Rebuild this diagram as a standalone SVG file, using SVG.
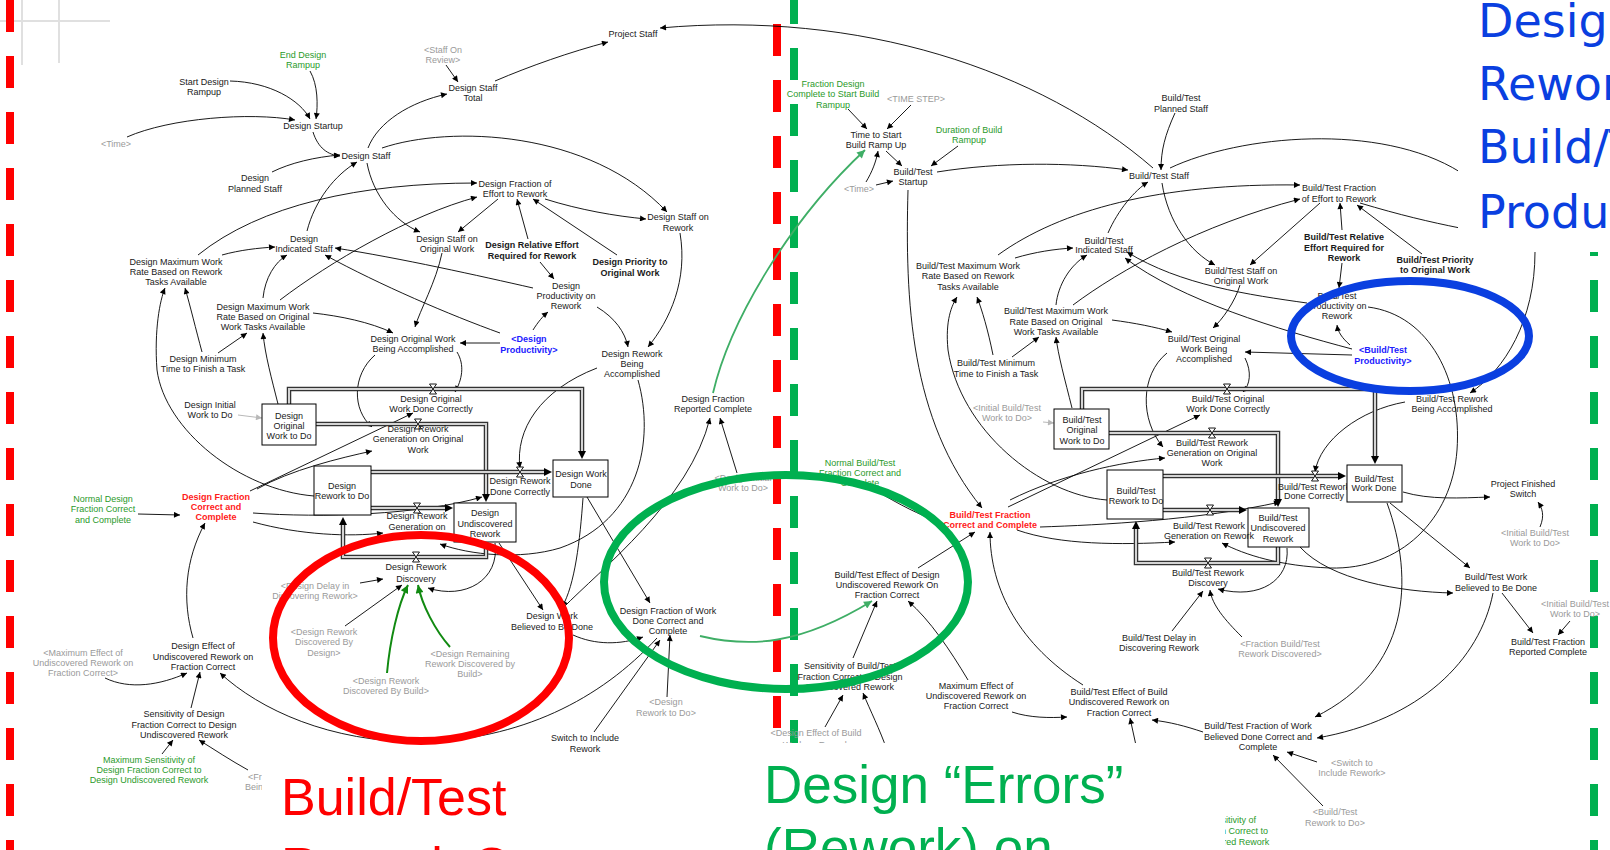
<svg xmlns="http://www.w3.org/2000/svg" width="1610" height="850" viewBox="0 0 1610 850">
<defs>
<style>
text{font-family:"Liberation Sans",Arial,sans-serif;font-size:9px;fill:#1a1a1a;text-anchor:middle}
.g{fill:#9a9a9a}
.gr{fill:#2a9a2a}
.b{font-weight:bold}
.rd{fill:#ff1a1a;font-weight:bold}
.bl{fill:#2020ff;font-weight:bold}
.c{fill:none;stroke:#000;stroke-width:0.9;marker-end:url(#ah)}
.cn{fill:none;stroke:#000;stroke-width:0.9}
.cg{fill:none;stroke:#b8b8b8;stroke-width:1;marker-end:url(#ahg)}
.cG{fill:none;stroke:#118a11;stroke-width:2;marker-end:url(#ahG)}
.cM{fill:none;stroke:#3fae66;stroke-width:1.8;marker-end:url(#ahM)}
.po{fill:none;stroke:#333;stroke-width:4.5;marker-end:url(#pa)}
.pi{fill:none;stroke:#d4d4d4;stroke-width:2}
.stk{fill:#fff;stroke:#000;stroke-width:1}
.dash{fill:none;stroke-width:8;stroke-dasharray:32 24}
.big{font-size:52px;text-anchor:start}
</style>
<marker id="ah" viewBox="0 0 10 10" refX="10" refY="5" markerWidth="8" markerHeight="6" orient="auto" markerUnits="userSpaceOnUse"><path d="M0,0L10,5L0,10z" fill="#000"/></marker>
<marker id="ahg" viewBox="0 0 10 10" refX="10" refY="5" markerWidth="8" markerHeight="6" orient="auto" markerUnits="userSpaceOnUse"><path d="M0,0L10,5L0,10z" fill="#b8b8b8"/></marker>
<marker id="ahG" viewBox="0 0 10 10" refX="10" refY="5" markerWidth="11" markerHeight="8" orient="auto" markerUnits="userSpaceOnUse"><path d="M0,0L10,5L0,10z" fill="#118a11"/></marker>
<marker id="ahM" viewBox="0 0 10 10" refX="10" refY="5" markerWidth="11" markerHeight="8" orient="auto" markerUnits="userSpaceOnUse"><path d="M0,0L10,5L0,10z" fill="#3fae66"/></marker>
<marker id="pa" viewBox="0 0 10 10" refX="0" refY="5" markerWidth="10" markerHeight="8" orient="auto" markerUnits="userSpaceOnUse"><path d="M0,0L10,5L0,10z" fill="#000"/></marker>
<path id="vlv" d="M-3.5,-5H3.5L-3.5,5H3.5Z" fill="#fff" stroke="#000" stroke-width="0.9"/>
</defs>
<rect width="1610" height="850" fill="#fff"/>

<g id="grid" stroke="#e0e0e0" stroke-width="2" fill="none">
<path d="M0,21H110M22,0V65M59,0V63"/>
</g>

<g id="dividers">
<path class="dash" stroke="#ff0000" d="M10,0V850"/>
<path class="dash" stroke="#ff0000" d="M777,24V850"/>
<path class="dash" stroke="#00b050" d="M794,-8V850"/>
<path class="dash" stroke="#00b050" d="M1594,0V850"/>
</g>

<g id="connectors">
<path class="c" d="M127,137C170,118 250,112 295,120"/>
<path class="c" d="M230,81C270,82 300,100 310,119"/>
<path class="c" d="M310,71C318,85 318,105 316,119"/>
<path class="c" d="M313,132C318,148 328,155 340,156"/>
<path class="c" d="M272,172C290,163 315,157 340,155"/>
<path class="c" d="M307,231C315,200 335,175 357,162"/>
<path class="c" d="M222,255C240,250 258,248 275,247"/>
<path class="c" d="M198,255C260,205 360,183 477,183"/>
<path class="c" d="M368,148C378,122 410,102 447,94"/>
<path class="c" d="M446,65L458,82"/>
<path class="c" d="M495,81C530,66 570,52 608,42"/>
<path class="c" d="M1153,168C1040,70 860,10 660,28"/>
<path class="c" d="M382,148C450,125 590,130 667,212"/>
<path class="c" d="M367,163C373,195 395,222 420,232"/>
<path class="c" d="M498,199L458,232"/>
<path class="c" d="M545,199C580,210 615,216 646,219"/>
<path class="c" d="M528,239L517,199"/>
<path class="c" d="M540,262L554,279"/>
<path class="c" d="M617,255L533,199"/>
<path class="c" d="M680,233C688,280 670,320 648,347"/>
<path class="c" d="M442,253C436,282 420,310 415,327"/>
<path class="c" d="M280,300C330,262 410,215 477,197"/>
<path class="c" d="M263,298C265,278 275,262 287,255"/>
<path class="c" d="M533,288C480,276 400,258 335,248"/>
<path class="c" d="M500,333C450,315 380,285 325,255"/>
<path class="c" d="M533,330C538,322 543,316 548,312"/>
<path class="c" d="M500,343L460,343"/>
<path class="c" d="M597,307C615,318 625,332 628,347"/>
<path class="c" d="M314,496C240,490 165,430 157,370C154,330 160,300 165,288"/>
<path class="c" d="M202,352C196,330 190,305 185,288"/>
<path class="c" d="M218,353L247,333"/>
<path class="c" d="M278,404C272,380 265,355 263,333"/>
<path class="c" d="M313,313C340,316 370,322 393,333"/>
<path class="c" d="M375,355C352,375 352,410 372,427"/>
<path class="c" d="M457,352C465,365 462,380 455,392"/>
<path class="cg" d="M238,415L262,418"/>
<path class="c" d="M250,491L413,413"/>
<path class="c" d="M257,489C290,470 340,458 372,451"/>
<path class="c" d="M253,513C320,518 420,515 482,497"/>
<path class="c" d="M253,522C300,535 350,537 383,533"/>
<path class="c" d="M138,514L180,515"/>
<path class="c" d="M193,638C182,600 185,560 205,523"/>
<path class="c" d="M597,368C540,390 515,430 520,468"/>
<path class="c" d="M638,380C655,440 640,520 560,548C520,560 470,555 440,544"/>
<path class="c" d="M495,543C500,580 465,600 428,588"/>
<path class="c" d="M499,543L543,610"/>
<path class="c" d="M583,498C580,540 575,585 562,607"/>
<path class="c" d="M587,497L650,603"/>
<path class="c" d="M573,635C595,645 620,645 643,637"/>
<path class="c" d="M563,608C600,570 690,500 710,418"/>
<path class="c" d="M737,473L720,418"/>
<path class="c" d="M594,732L660,640"/>
<path class="c" d="M667,697L670,635"/>
<path class="c" d="M657,638C600,700 520,740 420,742C330,742 260,710 220,673"/>
<path class="c" d="M105,678C130,690 160,685 187,673"/>
<path class="c" d="M191,708L200,672"/>
<path class="c" d="M162,754L173,740"/>
<path class="c" d="M248,770C230,760 215,750 199,740"/>
<path class="c" d="M360,583L383,579"/>
<path class="c" d="M345,626L402,585"/>
<path class="cG" d="M387,673C390,640 398,605 408,585"/>
<path class="cG" d="M450,647C435,630 422,605 418,585"/>
<path class="cM" d="M713,393C730,320 790,220 865,150"/>
<path class="cM" d="M700,636C750,648 800,645 872,601"/>
<path class="c" d="M848,109L867,129"/>
<path class="c" d="M911,105L887,129"/>
<path class="c" d="M886,151L902,166"/>
<path class="c" d="M866,182C872,172 876,162 878,151"/>
<path class="c" d="M876,185L893,181"/>
<path class="c" d="M958,146L931,166"/>
<path class="c" d="M937,172C1000,162 1070,162 1128,170"/>
<path class="c" d="M1175,113C1165,135 1161,150 1161,170"/>
<path class="c" d="M1108,233C1118,210 1135,190 1148,182"/>
<path class="c" d="M908,190C905,300 910,420 982,508"/>
<path class="c" d="M1015,258C1035,252 1055,249 1073,248"/>
<path class="c" d="M998,255C1060,210 1160,183 1300,185"/>
<path class="cn" d="M1170,168C1240,135 1380,122 1460,172"/>
<path class="c" d="M1162,183C1168,222 1190,252 1215,265"/>
<path class="c" d="M1320,203L1250,265"/>
<path class="cn" d="M1360,203C1400,215 1430,222 1460,228"/>
<path class="c" d="M1342,230L1340,203"/>
<path class="c" d="M1342,263L1339,288"/>
<path class="c" d="M1422,254L1357,205"/>
<path class="c" d="M1535,252C1535,320 1505,370 1470,393"/>
<path class="c" d="M1073,305C1120,270 1200,225 1300,199"/>
<path class="c" d="M1056,305C1058,285 1070,265 1087,255"/>
<path class="c" d="M1307,303C1250,295 1180,285 1127,252"/>
<path class="c" d="M1352,349C1280,330 1180,300 1125,258"/>
<path class="c" d="M1350,345C1342,338 1338,332 1337,325"/>
<path class="c" d="M1352,355L1245,352"/>
<path class="c" d="M1368,307C1430,315 1462,380 1457,450C1452,520 1400,570 1330,568C1280,566 1245,555 1222,543"/>
<path class="c" d="M1240,285C1235,302 1222,320 1213,328"/>
<path class="c" d="M1107,500C1040,495 960,430 948,350C945,320 952,305 957,297"/>
<path class="c" d="M993,355C988,330 982,310 977,297"/>
<path class="c" d="M1012,357L1039,337"/>
<path class="c" d="M1072,408C1065,380 1058,355 1056,337"/>
<path class="c" d="M1112,320C1135,323 1155,327 1172,332"/>
<path class="c" d="M1167,353C1140,375 1140,420 1163,447"/>
<path class="c" d="M1245,358C1252,372 1250,385 1243,392"/>
<path class="cg" d="M1043,422L1054,423"/>
<path class="c" d="M1008,507L1200,415"/>
<path class="c" d="M1010,500C1060,475 1120,462 1165,458"/>
<path class="c" d="M1040,527C1100,525 1200,520 1280,502"/>
<path class="c" d="M1017,530C1060,545 1120,545 1175,542"/>
<path class="c" d="M875,490C900,505 920,515 937,521"/>
<path class="c" d="M918,568L975,532"/>
<path class="c" d="M1083,685C1020,645 990,590 990,532"/>
<path class="c" d="M1405,402C1360,410 1320,440 1315,472"/>
<path class="c" d="M1287,548C1290,580 1260,600 1218,589"/>
<path class="c" d="M1242,637C1225,620 1212,605 1210,590"/>
<path class="c" d="M1172,631L1203,591"/>
<path class="c" d="M1300,547C1330,580 1400,592 1453,593"/>
<path class="c" d="M1390,503L1470,568"/>
<path class="c" d="M1387,503C1415,580 1410,670 1315,717"/>
<path class="c" d="M1493,593C1480,660 1420,720 1317,738"/>
<path class="c" d="M1502,593L1533,633"/>
<path class="c" d="M1570,621L1558,635"/>
<path class="c" d="M1403,492C1430,500 1460,498 1490,497"/>
<path class="c" d="M1540,527C1545,515 1542,508 1538,502"/>
<path class="c" d="M1317,762L1287,752"/>
<path class="c" d="M1323,806L1273,755"/>
<path class="c" d="M1203,732C1185,726 1170,722 1152,720"/>
<path class="c" d="M1137,750L1130,718"/>
<path class="c" d="M1012,712C1030,718 1050,718 1067,717"/>
<path class="c" d="M968,680C950,650 930,620 908,601"/>
<path class="c" d="M853,658L877,601"/>
<path class="c" d="M825,727L843,695"/>
<path class="c" d="M887,750C880,730 870,710 863,693"/>
</g>

<g id="flows">
<path class="po" d="M289,404V389H582V451"/><path class="pi" d="M289,404V389H582V451"/>
<path class="po" d="M316,424H486V494"/><path class="pi" d="M316,424H486V494"/>
<path class="po" d="M371,472H544"/><path class="pi" d="M371,472H544"/>
<path class="po" d="M371,508H445"/><path class="pi" d="M371,508H445"/>
<path class="po" d="M486,542V557H343V525"/><path class="pi" d="M486,542V557H343V525"/>
<path class="po" d="M1082,409V389H1375V456"/><path class="pi" d="M1082,409V389H1375V456"/>
<path class="po" d="M1109,433H1278V499"/><path class="pi" d="M1109,433H1278V499"/>
<path class="po" d="M1163,476H1338"/><path class="pi" d="M1163,476H1338"/>
<path class="po" d="M1163,510H1239"/><path class="pi" d="M1163,510H1239"/>
<path class="po" d="M1278,547V563H1136V529"/><path class="pi" d="M1278,547V563H1136V529"/>
<use href="#vlv" x="433" y="389"/>
<use href="#vlv" x="418" y="424"/>
<use href="#vlv" x="520" y="472"/>
<use href="#vlv" x="417" y="508"/>
<use href="#vlv" x="416" y="557"/>
<use href="#vlv" x="1227" y="389"/>
<use href="#vlv" x="1212" y="433"/>
<use href="#vlv" x="1315" y="476"/>
<use href="#vlv" x="1210" y="510"/>
<use href="#vlv" x="1208" y="563"/>
</g>

<g id="n_end_design_rampup"><text class="gr"><tspan x="303" y="58">End Design</tspan><tspan x="303" y="68">Rampup</tspan></text></g>
<g id="n_start_design_rampup"><text><tspan x="204" y="85">Start Design</tspan><tspan x="204" y="95">Rampup</tspan></text></g>
<g id="n_design_startup"><text x="313" y="129">Design Startup</text></g>
<g id="n_time1"><text class="g" x="116" y="147">&lt;Time&gt;</text></g>
<g id="n_design_staff"><text x="366" y="159">Design Staff</text></g>
<g id="n_design_planned"><text><tspan x="255" y="181">Design</tspan><tspan x="255" y="192">Planned Staff</tspan></text></g>
<g id="n_design_indicated"><text><tspan x="304" y="242">Design</tspan><tspan x="304" y="252">Indicated Staff</tspan></text></g>
<g id="n_dmax_rework"><text><tspan x="176" y="265">Design Maximum Work</tspan><tspan x="176" y="275">Rate Based on Rework</tspan><tspan x="176" y="285">Tasks Available</tspan></text></g>
<g id="n_project_staff"><text x="633" y="37">Project Staff</text></g>
<g id="n_staff_on_review"><text class="g"><tspan x="443" y="53">&lt;Staff On</tspan><tspan x="443" y="63">Review&gt;</tspan></text></g>
<g id="n_staff_total"><text><tspan x="473" y="91">Design Staff</tspan><tspan x="473" y="101">Total</tspan></text></g>
<g id="n_dfrac_effort"><text><tspan x="515" y="187">Design Fraction of</tspan><tspan x="515" y="197">Effort to Rework</tspan></text></g>
<g id="n_dstaff_rework"><text><tspan x="678" y="220">Design Staff on</tspan><tspan x="678" y="231">Rework</tspan></text></g>
<g id="n_dstaff_orig"><text><tspan x="447" y="242">Design Staff on</tspan><tspan x="447" y="252">Original Work</tspan></text></g>
<g id="n_drel_effort"><text class="b"><tspan x="532" y="248">Design Relative Effort</tspan><tspan x="532" y="259">Required for Rework</tspan></text></g>
<g id="n_dpriority"><text class="b"><tspan x="630" y="265">Design Priority to</tspan><tspan x="630" y="276">Original Work</tspan></text></g>
<g id="n_dprod_rework"><text><tspan x="566" y="289">Design</tspan><tspan x="566" y="299">Productivity on</tspan><tspan x="566" y="309">Rework</tspan></text></g>
<g id="n_dmax_orig"><text><tspan x="263" y="310">Design Maximum Work</tspan><tspan x="263" y="320">Rate Based on Original</tspan><tspan x="263" y="330">Work Tasks Available</tspan></text></g>
<g id="n_dmin"><text><tspan x="203" y="362">Design Minimum</tspan><tspan x="203" y="372">Time to Finish a Task</tspan></text></g>
<g id="n_dorig_being"><text><tspan x="413" y="342">Design Original Work</tspan><tspan x="413" y="352">Being Accomplished</tspan></text></g>
<g id="n_dprod"><text class="bl"><tspan x="529" y="342">&lt;Design</tspan><tspan x="529" y="353">Productivity&gt;</tspan></text></g>
<g id="n_drework_being"><text><tspan x="632" y="357">Design Rework</tspan><tspan x="632" y="367">Being</tspan><tspan x="632" y="377">Accomplished</tspan></text></g>
<g id="n_dinitial"><text><tspan x="210" y="408">Design Initial</tspan><tspan x="210" y="418">Work to Do</tspan></text></g>
<g id="n_dorig_wtd"><rect class="stk" x="262" y="404" width="54" height="41"/><text><tspan x="289" y="419">Design</tspan><tspan x="289" y="429">Original</tspan><tspan x="289" y="439">Work to Do</tspan></text></g>
<g id="n_dorig_done"><text><tspan x="431" y="402">Design Original</tspan><tspan x="431" y="412">Work Done Correctly</tspan></text></g>
<g id="n_dgen_orig"><text><tspan x="418" y="432">Design Rework</tspan><tspan x="418" y="442">Generation on Original</tspan><tspan x="418" y="453">Work</tspan></text></g>
<g id="n_drework_wtd"><rect class="stk" x="314" y="466" width="57" height="49"/><text><tspan x="342" y="489">Design</tspan><tspan x="342" y="499">Rework to Do</tspan></text></g>
<g id="n_dfrac_correct"><text class="rd"><tspan x="216" y="500">Design Fraction</tspan><tspan x="216" y="510">Correct and</tspan><tspan x="216" y="520">Complete</tspan></text></g>
<g id="n_dnormal"><text class="gr"><tspan x="103" y="502">Normal Design</tspan><tspan x="103" y="512">Fraction Correct</tspan><tspan x="103" y="523">and Complete</tspan></text></g>
<g id="n_dwork_done"><rect class="stk" x="553" y="460" width="55" height="37"/><text><tspan x="581" y="477">Design Work</tspan><tspan x="581" y="488">Done</tspan></text></g>
<g id="n_drework_done"><text><tspan x="520" y="484">Design Rework</tspan><tspan x="520" y="495">Done Correctly</tspan></text></g>
<g id="n_dundisc"><rect class="stk" x="454" y="503" width="62" height="39"/><text><tspan x="485" y="516">Design</tspan><tspan x="485" y="527">Undiscovered</tspan><tspan x="485" y="537">Rework</tspan></text></g>
<g id="n_dgen_rework"><text><tspan x="417" y="519">Design Rework</tspan><tspan x="417" y="530">Generation on</tspan></text></g>
<g id="n_ddiscovery"><text><tspan x="416" y="570">Design Rework</tspan><tspan x="416" y="582">Discovery</tspan></text></g>
<g id="n_ddelay"><text class="g"><tspan x="315" y="589">&lt;Design Delay in</tspan><tspan x="315" y="599">Discovering Rework&gt;</tspan></text></g>
<g id="n_ddisc_design"><text class="g"><tspan x="324" y="635">&lt;Design Rework</tspan><tspan x="324" y="645">Discovered By</tspan><tspan x="324" y="656">Design&gt;</tspan></text></g>
<g id="n_ddisc_build"><text class="g"><tspan x="386" y="684">&lt;Design Rework</tspan><tspan x="386" y="694">Discovered By Build&gt;</tspan></text></g>
<g id="n_dremaining"><text class="g"><tspan x="470" y="657">&lt;Design Remaining</tspan><tspan x="470" y="667">Rework Discovered by</tspan><tspan x="470" y="677">Build&gt;</tspan></text></g>
<g id="n_dbelieved"><text><tspan x="552" y="619">Design Work</tspan><tspan x="552" y="630">Believed to Be Done</tspan></text></g>
<g id="n_dfwd"><text><tspan x="668" y="614">Design Fraction of Work</tspan><tspan x="668" y="624">Done Correct and</tspan><tspan x="668" y="634">Complete</tspan></text></g>
<g id="n_drework_wtd_sh"><text class="g"><tspan x="666" y="705">&lt;Design</tspan><tspan x="666" y="716">Rework to Do&gt;</tspan></text></g>
<g id="n_switch"><text><tspan x="585" y="741">Switch to Include</tspan><tspan x="585" y="752">Rework</tspan></text></g>
<g id="n_dreported"><text><tspan x="713" y="402">Design Fraction</tspan><tspan x="713" y="412">Reported Complete</tspan></text></g>
<g id="n_dinitial_sh"><text class="g"><tspan x="743" y="481">&lt;Design Initial</tspan><tspan x="743" y="491">Work to Do&gt;</tspan></text></g>
<g id="n_deffect"><text><tspan x="203" y="649">Design Effect of</tspan><tspan x="203" y="660">Undiscovered Rework on</tspan><tspan x="203" y="670">Fraction Correct</tspan></text></g>
<g id="n_maxeffect_sh"><text class="g"><tspan x="83" y="656">&lt;Maximum Effect of</tspan><tspan x="83" y="666">Undiscovered Rework on</tspan><tspan x="83" y="676">Fraction Correct&gt;</tspan></text></g>
<g id="n_dsens"><text><tspan x="184" y="717">Sensitivity of Design</tspan><tspan x="184" y="728">Fraction Correct to Design</tspan><tspan x="184" y="738">Undiscovered Rework</tspan></text></g>
<g id="n_dmaxsens"><text class="gr"><tspan x="149" y="763">Maximum Sensitivity of</tspan><tspan x="149" y="773">Design Fraction Correct to</tspan><tspan x="149" y="783">Design Undiscovered Rework</tspan></text></g>
<g id="n_fr"><text class="g" style="text-anchor:start"><tspan x="248" y="780">&lt;Fr</tspan><tspan x="245" y="790">Bein</tspan></text></g>

<g id="n_frac_design_complete"><text class="gr"><tspan x="833" y="87">Fraction Design</tspan><tspan x="833" y="97">Complete to Start Build</tspan><tspan x="833" y="108">Rampup</tspan></text></g>
<g id="n_timestep"><text class="g" x="916" y="102">&lt;TIME STEP&gt;</text></g>
<g id="n_time_to_start"><text><tspan x="876" y="138">Time to Start</tspan><tspan x="876" y="148">Build Ramp Up</tspan></text></g>
<g id="n_duration"><text class="gr"><tspan x="969" y="133">Duration of Build</tspan><tspan x="969" y="143">Rampup</tspan></text></g>
<g id="n_bt_startup"><text><tspan x="913" y="175">Build/Test</tspan><tspan x="913" y="185">Startup</tspan></text></g>
<g id="n_time2"><text class="g" x="859" y="192">&lt;Time&gt;</text></g>
<g id="n_bt_staff"><text x="1159" y="179">Build/Test Staff</text></g>
<g id="n_bt_planned"><text><tspan x="1181" y="101">Build/Test</tspan><tspan x="1181" y="112">Planned Staff</tspan></text></g>
<g id="n_bt_indicated"><text><tspan x="1104" y="244">Build/Test</tspan><tspan x="1104" y="253">Indicated Staff</tspan></text></g>
<g id="n_btmax_rework"><text><tspan x="968" y="269">Build/Test Maximum Work</tspan><tspan x="968" y="279">Rate Based on Rework</tspan><tspan x="968" y="290">Tasks Available</tspan></text></g>
<g id="n_btfrac_effort"><text><tspan x="1339" y="191">Build/Test Fraction</tspan><tspan x="1339" y="202">of Effort to Rework</tspan></text></g>
<g id="n_btrel"><text class="b"><tspan x="1344" y="240">Build/Test Relative</tspan><tspan x="1344" y="251">Effort Required for</tspan><tspan x="1344" y="261">Rework</tspan></text></g>
<g id="n_btpriority"><text class="b"><tspan x="1435" y="263">Build/Test Priority</tspan><tspan x="1435" y="273">to Original Work</tspan></text></g>
<g id="n_btstaff_orig"><text><tspan x="1241" y="274">Build/Test Staff on</tspan><tspan x="1241" y="284">Original Work</tspan></text></g>
<g id="n_btprod_rework"><text><tspan x="1337" y="299">Build/Test</tspan><tspan x="1337" y="309">Productivity on</tspan><tspan x="1337" y="319">Rework</tspan></text></g>
<g id="n_btprod"><text class="bl"><tspan x="1383" y="353">&lt;Build/Test</tspan><tspan x="1383" y="364">Productivity&gt;</tspan></text></g>
<g id="n_btmax_orig"><text><tspan x="1056" y="314">Build/Test Maximum Work</tspan><tspan x="1056" y="325">Rate Based on Original</tspan><tspan x="1056" y="335">Work Tasks Available</tspan></text></g>
<g id="n_btmin"><text><tspan x="996" y="366">Build/Test Minimum</tspan><tspan x="996" y="377">Time to Finish a Task</tspan></text></g>
<g id="n_btorig_being"><text><tspan x="1204" y="342">Build/Test Original</tspan><tspan x="1204" y="352">Work Being</tspan><tspan x="1204" y="362">Accomplished</tspan></text></g>
<g id="n_initial_bt"><text class="g"><tspan x="1007" y="411">&lt;Initial Build/Test</tspan><tspan x="1007" y="421">Work to Do&gt;</tspan></text></g>
<g id="n_bt_orig_wtd"><rect class="stk" x="1054" y="409" width="55" height="40"/><text><tspan x="1082" y="423">Build/Test</tspan><tspan x="1082" y="433">Original</tspan><tspan x="1082" y="444">Work to Do</tspan></text></g>
<g id="n_btorig_done"><text><tspan x="1228" y="402">Build/Test Original</tspan><tspan x="1228" y="412">Work Done Correctly</tspan></text></g>
<g id="n_btgen_orig"><text><tspan x="1212" y="446">Build/Test Rework</tspan><tspan x="1212" y="456">Generation on Original</tspan><tspan x="1212" y="466">Work</tspan></text></g>
<g id="n_btrework_being"><text><tspan x="1452" y="402">Build/Test Rework</tspan><tspan x="1452" y="412">Being Accomplished</tspan></text></g>
<g id="n_btnormal"><text class="gr"><tspan x="860" y="466">Normal Build/Test</tspan><tspan x="860" y="476">Fraction Correct and</tspan><tspan x="860" y="486">Complete</tspan></text></g>
<g id="n_btfrac_correct"><text class="rd"><tspan x="990" y="518">Build/Test Fraction</tspan><tspan x="990" y="528">Correct and Complete</tspan></text></g>
<g id="n_bt_rework_wtd"><rect class="stk" x="1107" y="470" width="56" height="49"/><text><tspan x="1136" y="494">Build/Test</tspan><tspan x="1136" y="504">Rework to Do</tspan></text></g>
<g id="n_btrework_done"><text><tspan x="1314" y="490">Build/Test Rework</tspan><tspan x="1314" y="499">Done Correctly</tspan></text></g>
<g id="n_bt_work_done"><rect class="stk" x="1347" y="465" width="55" height="37"/><text><tspan x="1374" y="482">Build/Test</tspan><tspan x="1374" y="491">Work Done</tspan></text></g>
<g id="n_bt_undisc"><rect class="stk" x="1248" y="508" width="61" height="39"/><text><tspan x="1278" y="521">Build/Test</tspan><tspan x="1278" y="531">Undiscovered</tspan><tspan x="1278" y="542">Rework</tspan></text></g>
<g id="n_btgen_rework"><text><tspan x="1209" y="529">Build/Test Rework</tspan><tspan x="1209" y="539">Generation on Rework</tspan></text></g>
<g id="n_btdiscovery"><text><tspan x="1208" y="576">Build/Test Rework</tspan><tspan x="1208" y="586">Discovery</tspan></text></g>
<g id="n_project_finished"><text><tspan x="1523" y="487">Project Finished</tspan><tspan x="1523" y="497">Switch</tspan></text></g>
<g id="n_initial_bt2"><text class="g"><tspan x="1535" y="536">&lt;Initial Build/Test</tspan><tspan x="1535" y="546">Work to Do&gt;</tspan></text></g>
<g id="n_btbelieved"><text><tspan x="1496" y="580">Build/Test Work</tspan><tspan x="1496" y="591">Believed to Be Done</tspan></text></g>
<g id="n_btreported"><text><tspan x="1548" y="645">Build/Test Fraction</tspan><tspan x="1548" y="655">Reported Complete</tspan></text></g>
<g id="n_initial_bt3"><text class="g"><tspan x="1575" y="607">&lt;Initial Build/Test</tspan><tspan x="1575" y="617">Work to Do&gt;</tspan></text></g>
<g id="n_frac_bt_disc"><text class="g"><tspan x="1280" y="647">&lt;Fraction Build/Test</tspan><tspan x="1280" y="657">Rework Discovered&gt;</tspan></text></g>
<g id="n_btdelay"><text><tspan x="1159" y="641">Build/Test Delay in</tspan><tspan x="1159" y="651">Discovering Rework</tspan></text></g>
<g id="n_btfwb"><text><tspan x="1258" y="729">Build/Test Fraction of Work</tspan><tspan x="1258" y="740">Believed Done Correct and</tspan><tspan x="1258" y="750">Complete</tspan></text></g>
<g id="n_switch_sh"><text class="g"><tspan x="1352" y="766">&lt;Switch to</tspan><tspan x="1352" y="776">Include Rework&gt;</tspan></text></g>
<g id="n_btrework_wtd_sh"><text class="g"><tspan x="1335" y="815">&lt;Build/Test</tspan><tspan x="1335" y="826">Rework to Do&gt;</tspan></text></g>
<g id="n_bteffect_design"><text><tspan x="887" y="578">Build/Test Effect of Design</tspan><tspan x="887" y="588">Undiscovered Rework On</tspan><tspan x="887" y="598">Fraction Correct</tspan></text></g>
<g id="n_btsens"><text><tspan x="850" y="669">Sensitivity of Build/Test</tspan><tspan x="850" y="680">Fraction Correct to Design</tspan><tspan x="850" y="690">Undiscovered Rework</tspan></text></g>
<g id="n_maxeffect"><text><tspan x="976" y="689">Maximum Effect of</tspan><tspan x="976" y="699">Undiscovered Rework on</tspan><tspan x="976" y="709">Fraction Correct</tspan></text></g>
<g id="n_bteffect_build"><text><tspan x="1119" y="695">Build/Test Effect of Build</tspan><tspan x="1119" y="705">Undiscovered Rework on</tspan><tspan x="1119" y="716">Fraction Correct</tspan></text></g>
<g id="n_design_effect_build"><text class="g"><tspan x="816" y="736">&lt;Design Effect of Build</tspan><tspan x="816" y="748">Work on Rework</tspan></text></g>
<g id="n_maxsens_bt"><text class="gr"><tspan x="1210" y="823">Maximum Sensitivity of</tspan><tspan x="1210" y="834">Build/Test Fraction Correct to</tspan><tspan x="1210" y="845">Design Undiscovered Rework</tspan></text></g>

<g id="highlights" fill="none" stroke-width="8">
<ellipse cx="421" cy="638" rx="148" ry="103" stroke="#ff0000"/>
<ellipse cx="786" cy="582" rx="182" ry="107" stroke="#00b050"/>
<ellipse cx="1410" cy="336" rx="119" ry="55" stroke="#0a3fe0"/>
</g>

<g id="captions">
<rect x="1458" y="0" width="152" height="252" fill="#fff"/>
<rect x="262" y="756" width="503" height="94" fill="#fff"/>
<rect x="765" y="743" width="460" height="107" fill="#fff"/>
<text class="big" style="font-family:'DejaVu Sans',Verdana,sans-serif;font-size:46px;fill:#0a3fe0"><tspan x="1478" y="37">Design</tspan><tspan x="1478" y="100">Rework on</tspan><tspan x="1478" y="163">Build/Test</tspan><tspan x="1478" y="228">Productivity</tspan></text>
<text class="big" style="fill:#ff0000"><tspan x="281" y="815">Build/Test</tspan><tspan x="281" y="884">Rework On</tspan></text>
<text class="big" style="font-size:53px;fill:#00b050"><tspan x="764" y="803">Design “Errors”</tspan><tspan x="764" y="866">(Rework) on</tspan></text>
</g>
</svg>
